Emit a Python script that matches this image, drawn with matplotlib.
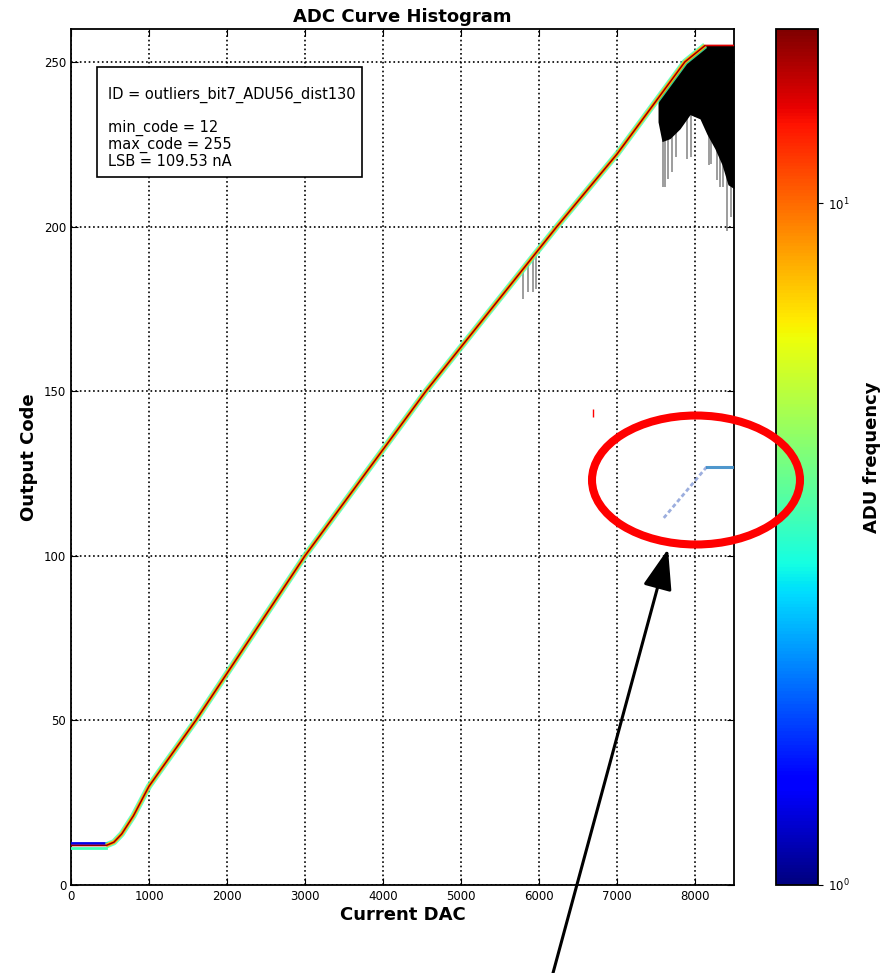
import matplotlib
matplotlib.use('Agg')
import matplotlib.pyplot as plt
from matplotlib.colors import LogNorm
from matplotlib.cm import ScalarMappable
from matplotlib.patches import Ellipse, FancyArrowPatch, Rectangle

# mean transfer curve: DAC setting -> output code
dac = [0, 450, 550, 650, 800, 1000, 1600, 3000, 4550, 6230, 7000, 7870, 8130, 8500]
code = [12, 12, 13, 15.5, 21, 30, 50, 100, 150, 200, 222, 250, 255, 255]

# spread of readings in the saturation region
sat_dac = [7526, 7577, 7679, 7808, 7936, 8064, 8154, 8256, 8346, 8423, 8500]
sat_hi = [239, 240.5, 244, 248, 252, 254.5, 255, 255, 255, 255, 255]
sat_lo = [231.8, 225.8, 226.7, 229.7, 234, 232.7, 228, 223.6, 218.8, 212.7, 211.5]

# isolated low readings (vertical streaks)
spike_dac = [5795, 5859, 5923, 5962, 7590, 7620, 7650, 7700, 7760, 7900, 7950,
             8180, 8200, 8280, 8320, 8360, 8410, 8460]
spike_hi = [187, 189, 191, 192, 240, 241, 242, 244.5, 246, 250.5, 252,
            255, 255, 255, 255, 255, 255, 255]
spike_lo = [178, 180, 180, 181, 212, 212, 214.5, 216.7, 221, 220.6, 221,
            218.8, 219, 214, 212, 212, 198.5, 203]

# pixel with bit 7 stuck low
flip_dac = [7600, 8150, 8500]
flip_code = [111.5, 127, 127]

# single stray hit
stray_dac = [6692]
stray_lo = [142]
stray_hi = [144.5]

freq_min, freq_max = 1, 18

info = ("ID = outliers_bit7_ADU56_dist130\n\n"
        "min_code = 12\nmax_code = 255\nLSB = 109.53 nA")

W, H = 884, 973
fig = plt.figure(figsize=(W / 100, H / 100), dpi=100)
ax = fig.add_axes([71 / W, 1 - 885 / H, 663 / W, 856 / H])
cax = fig.add_axes([776 / W, 1 - 885 / H, 42 / W, 856 / H])
px = fig.dpi_scale_trans

cmap = plt.get_cmap('jet')
norm = LogNorm(freq_min, freq_max)

# streaks and saturation spread
ax.vlines(spike_dac, spike_lo, spike_hi, color='k', lw=1.2, alpha=0.45, zorder=2)
ax.fill_between(sat_dac, sat_lo, sat_hi, color='k', lw=0, zorder=2)

# histogram band around the mean
ax.plot(dac[:2], [c + 0.8 for c in code[:2]], color=cmap(norm(1.3)), lw=2, zorder=3)
ax.plot(dac[:2], [c - 0.8 for c in code[:2]], color=cmap(norm(3.5)), lw=2, zorder=3)
ax.plot(dac[1:-1], code[1:-1], color=cmap(norm(3.5)), lw=4.5, alpha=0.8,
        solid_capstyle='butt', zorder=3)
ax.plot(dac[1:-1], code[1:-1], color=cmap(norm(8)), lw=2.6,
        solid_capstyle='butt', zorder=4)
ax.plot(dac, code, color='#e00000', lw=1.2, zorder=5)
ax.plot(dac[:-1], code[:-1], color='k', lw=0.6, alpha=0.45, zorder=5)

# outlier branch
ax.plot(flip_dac[:2], flip_code[:2], color='#5a78c8', lw=2, alpha=0.6,
        ls=(0, (1.5, 1)), zorder=3)
ax.plot(flip_dac[1:], flip_code[1:], color='#3c8cc8', lw=2.2, alpha=0.9, zorder=3)
ax.vlines(stray_dac, stray_lo, stray_hi, color='red', lw=1, zorder=3)

ax.set_xlim(0, 8500)
ax.set_ylim(0, 260)
ax.set_xticks(range(0, 8001, 1000))
ax.set_yticks(range(0, 251, 50))
ax.grid(True, linestyle=':', color='k', lw=1.2)
ax.set_axisbelow(True)
ax.tick_params(direction='in', top=True, right=True, labelsize=8.5, length=5)
for s in ax.spines.values():
    s.set_linewidth(1.3)
ax.set_title('ADC Curve Histogram', fontsize=13, fontweight='bold', pad=5)
ax.set_xlabel('Current DAC', fontsize=13, fontweight='bold', labelpad=2)
ax.set_ylabel('Output Code', fontsize=13, fontweight='bold')

# info box
fig.add_artist(Rectangle((97 / 100, (H - 177) / 100), 2.65, 1.10, transform=px,
                         fc='white', ec='black', lw=1.2, zorder=5))
fig.text(108 / W, 1 - 87 / H, info, fontsize=10.5, va='top', ha='left',
         linespacing=1.08, zorder=6)

sm = ScalarMappable(norm=norm, cmap=cmap)
cb = fig.colorbar(sm, cax=cax)
cb.ax.minorticks_off()
cb.set_ticks([1, 10])
cb.ax.tick_params(labelsize=8.5)
cb.outline.set_linewidth(1.3)
cb.set_label('ADU frequency', fontsize=13, fontweight='bold', labelpad=10)

# highlight of the outlier branch
fig.add_artist(Ellipse((696 / 100, (H - 480) / 100), 2.08, 1.29, transform=px,
                       fill=False, ec='red', lw=5.8))
fig.add_artist(FancyArrowPatch((553 / 100, 0), (668 / 100, (H - 549) / 100),
                               transform=px, color='k', lw=2.2,
                               arrowstyle='-|>,head_length=1.0,head_width=0.36',
                               mutation_scale=25, shrinkA=0, shrinkB=0))

fig.savefig('out.png', dpi=100)
